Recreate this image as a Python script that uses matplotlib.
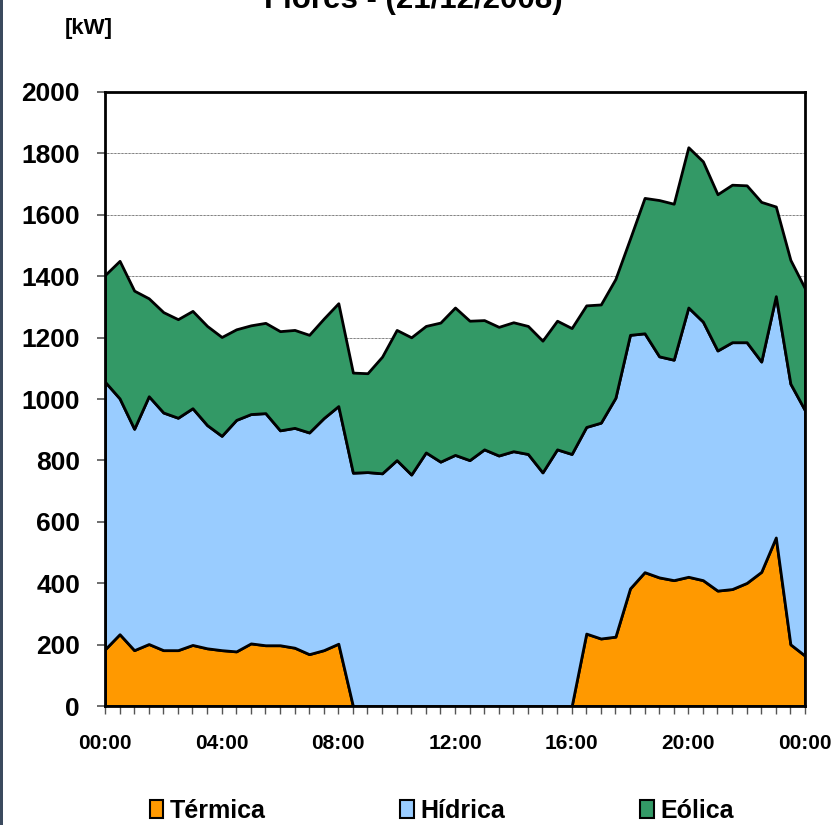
import matplotlib
matplotlib.use("Agg")
import matplotlib.pyplot as plt
import matplotlib.patches as mpatches
from matplotlib.ticker import MultipleLocator
import numpy as np

plt.rcParams["font.family"] = ["Liberation Sans", "DejaVu Sans"]
plt.rcParams["font.weight"] = "bold"

# half-hour steps over the day (00:00 .. 24:00)
hours = np.arange(0, 24.5, 0.5)

termica = [185, 234, 182, 202, 182, 182, 199, 188, 182, 178, 204, 198, 198, 190, 169, 182, 203,
           0, 0, 0, 0, 0, 0, 0, 0, 0, 0, 0, 0, 0, 0, 0, 0,
           236, 220, 226, 383, 436, 419, 410, 421, 410, 376, 381, 401, 437, 549, 201, 164]
hidrica = [871, 768, 721, 807, 774, 757, 771, 727, 698, 754, 747, 756, 700, 716, 722, 756, 774,
           760, 762, 758, 801, 754, 826, 796, 818, 801, 836, 816, 830, 821, 761, 836, 821,
           673, 703, 778, 826, 778, 720, 718, 877, 842, 782, 804, 784, 685, 786, 849, 799]
eolica = [348, 448, 450, 319, 327, 321, 317, 323, 322, 295, 289, 294, 323, 319, 318, 324, 335,
          326, 322, 380, 424, 447, 412, 453, 480, 454, 421, 419, 420, 417, 429, 419, 410,
          396, 385, 387, 313, 441, 509, 508, 522, 522, 509, 513, 511, 520, 292, 403, 397]

labels = ["Térmica", "Hídrica", "Eólica"]
colors = ["#FF9900", "#99CCFF", "#339966"]
xtick_pos = [0, 4, 8, 12, 16, 20, 24]
xtick_labels = ["00:00", "04:00", "08:00", "12:00", "16:00", "20:00", "00:00"]

fig = plt.figure(figsize=(8.38, 8.25), dpi=100)
ax = fig.add_axes([0.1253, 0.1442, 0.8353, 0.7443])

# dotted grid behind the areas
ax.set_axisbelow(True)
ax.yaxis.grid(True, linestyle=(0, (1, 1)), color="black", linewidth=0.5)

ax.stackplot(hours, termica, hidrica, eolica, colors=colors,
             edgecolor="black", linewidth=2.0, labels=labels)

ax.set_xlim(0, 24)
ax.set_ylim(0, 2000)
ax.yaxis.set_major_locator(MultipleLocator(200))
ax.set_xticks(xtick_pos)
ax.set_xticklabels(xtick_labels)
ax.xaxis.set_minor_locator(MultipleLocator(0.5))

ax.tick_params(axis="y", labelsize=19, length=6, width=1.2, color="#555555", pad=12)
ax.tick_params(axis="x", which="major", labelsize=15, length=6, width=1.0,
               color="#555555", pad=14)
ax.tick_params(axis="x", which="minor", length=6, width=1.0, color="#555555")
for lbl in ax.get_xticklabels() + ax.get_yticklabels():
    lbl.set_fontweight("bold")

for sp in ax.spines.values():
    sp.set_linewidth(2.0)
    sp.set_color("black")

fig.text(0.4935, 0.990, "Flores - (21/12/2008)", ha="center", va="baseline",
         fontsize=22.5, fontweight="bold")
fig.text(0.077, 0.959, "[kW]", ha="left", va="baseline", fontsize=16, fontweight="bold")

handles = [mpatches.Patch(facecolor=c, edgecolor="black", linewidth=1.5) for c in colors]
fig.legend(handles, labels, loc="center", bbox_to_anchor=(0.527, 0.017), ncol=3,
           frameon=False, fontsize=18, handlelength=0.55, handleheight=0.7,
           handletextpad=0.25, columnspacing=5.4)

# dark strip on left edge of the original slide
fig.add_artist(mpatches.Rectangle((0, 0), 0.004, 1, transform=fig.transFigure,
                                  facecolor="#3b4a5e", edgecolor="none"))

fig.savefig("out.png", dpi=100)
